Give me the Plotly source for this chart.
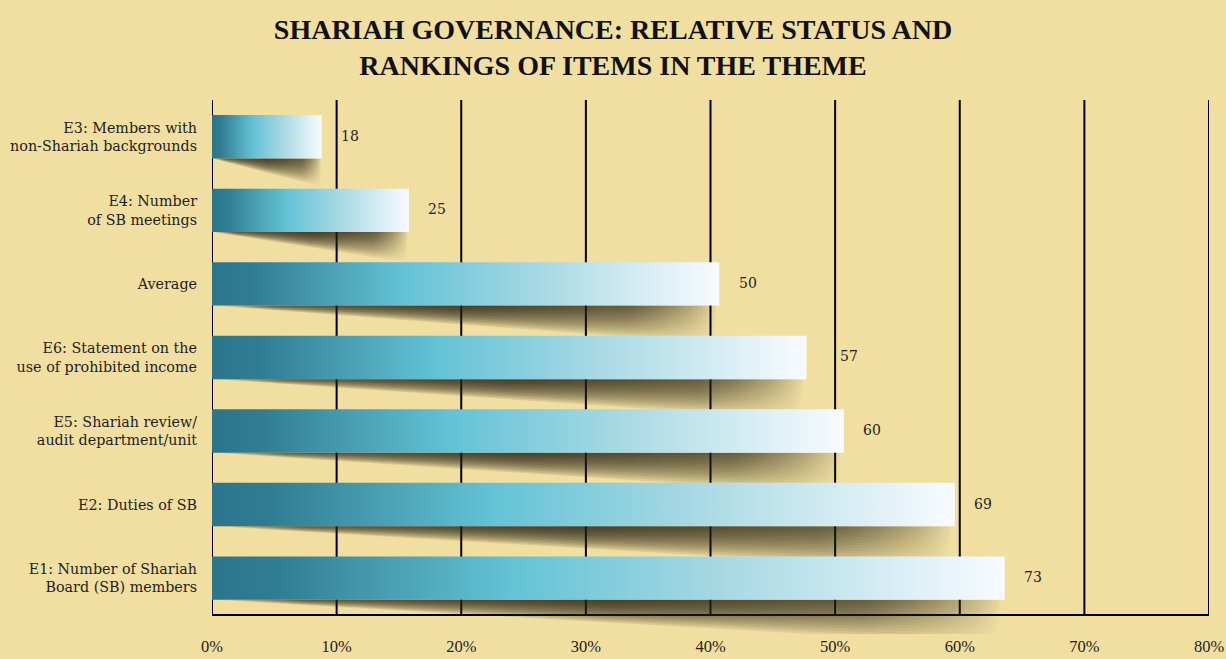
import plotly.graph_objs as go

# Data (bottom to top)
categories = [
    'E1: Number of Shariah<br>Board (SB) members',
    'E2: Duties of SB',
    'E5: Shariah review/<br>audit department/unit',
    'E6: Statement on the<br>use of prohibited income',
    'Average',
    'E4: Number<br>of SB meetings',
    'E3: Members with<br>non-Shariah backgrounds',
]
bar_pct = [63.6, 59.6, 50.7, 47.7, 40.7, 15.8, 8.8]
scores = [73, 69, 60, 57, 50, 25, 18]
x_ticks = [0, 10, 20, 30, 40, 50, 60, 70, 80]
x_tick_labels = ['0%', '10%', '20%', '30%', '40%', '50%', '60%', '70%', '80%']

bg = '#f0dfa1'
serif = 'DejaVu Serif'
half = 0.295  # half bar thickness in category units
label_xshift = [17, 17, 17, 32, 18, 17, 17]  # the 57 label sits past the 50% line
bar_scale = [[0, '#2b758d'], [0.08, '#307d93'], [0.38, '#64c3d6'],
             [0.65, '#a8d9e4'], [1, '#f8fbff']]

fig = go.Figure()

# soft drop shadows under each bar (many stacked thin wedges give the fade)
n_layers = 14
a = 0.12
shadow_rgb = '40,34,18'
for i, (cat, L) in enumerate(zip(categories, bar_pct)):
    yb = i - half
    depth = 0.34 + 0.0042 * L
    for k in range(1, n_layers + 1):
        d = depth * k / n_layers
        fig.add_trace(go.Scatter(
            x=[0, L, L * 0.985, 0], y=[yb, yb, yb - d, yb],
            mode='lines', line=dict(width=0), fill='toself',
            fillgradient=dict(type='horizontal', start=0, stop=L, colorscale=[
                [0, 'rgba(%s,0)' % shadow_rgb],
                [0.12, 'rgba(%s,%.3f)' % (shadow_rgb, a * 0.7)],
                [0.5, 'rgba(%s,%.3f)' % (shadow_rgb, a)],
                [0.82, 'rgba(%s,%.3f)' % (shadow_rgb, a * 0.65)],
                [1, 'rgba(%s,0)' % shadow_rgb]]),
            hoverinfo='skip', showlegend=False))

# gradient bars
for i, (cat, L) in enumerate(zip(categories, bar_pct)):
    fig.add_trace(go.Scatter(
        x=[0, L, L, 0, 0], y=[i - half, i - half, i + half, i + half, i - half],
        mode='lines', line=dict(width=0), fill='toself',
        fillgradient=dict(type='horizontal', start=0, stop=L, colorscale=bar_scale),
        name=cat.replace('<br>', ' '), showlegend=False))

# value labels
for i, (L, s) in enumerate(zip(bar_pct, scores)):
    fig.add_annotation(x=L, y=i, text=str(s), showarrow=False, xanchor='left',
                       xshift=label_xshift[i], yshift=1,
                       font=dict(family=serif, size=14, color='#1e1e1e'))

# grid lines and bottom line
for t in x_ticks:
    fig.add_shape(type='line', x0=t, x1=t, y0=-0.5, y1=6.5, layer='below',
                  line=dict(color='black', width=2))
fig.add_shape(type='line', x0=0, x1=80, y0=-0.5, y1=-0.5, layer='below',
              line=dict(color='black', width=2))

fig.update_layout(
    width=1226, height=659,
    paper_bgcolor=bg, plot_bgcolor=bg,
    margin=dict(l=212, r=17, t=100, b=25),
    title=dict(text='SHARIAH GOVERNANCE: RELATIVE STATUS AND<br>RANKINGS OF ITEMS IN THE THEME',
               x=0.5, xanchor='center', y=1 - 39 / 659, yanchor='middle',
               font=dict(family='Liberation Serif', size=28, color='#111111', weight='bold')),
    xaxis=dict(range=[0, 80], tickvals=x_ticks, ticktext=x_tick_labels, showgrid=False,
               zeroline=False, showline=False, ticks='', automargin=False,
               tickfont=dict(family='Liberation Serif', size=16.5, color='#1e1e1e')),
    yaxis=dict(range=[-0.76, 6.5], tickvals=list(range(len(categories))), ticktext=categories,
               showgrid=False, zeroline=False, showline=False, ticks='', ticklabelstandoff=14,
               automargin=False, tickfont=dict(family=serif, size=14.3, color='#1e1e1e')),
)

# page body margin would push the figure off the window
fig.write_html('out.html', config={'displayModeBar': False},
               post_script="document.body.style.margin='0';")
